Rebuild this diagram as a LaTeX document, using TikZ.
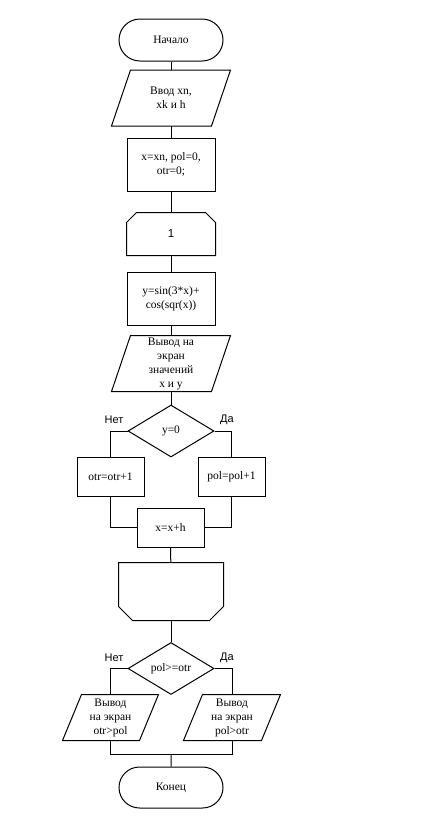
\documentclass[tikz,border=0pt]{standalone}
\usepackage{fontspec}
\setmainfont{Liberation Serif}
\setsansfont{Liberation Sans}
\usetikzlibrary{shapes.geometric,shapes.misc}

\tikzset{
  base/.style={draw,line width=1pt,align=center,inner sep=0pt,
    font=\fontsize{11.5}{14}\selectfont},
  term/.style={base,rounded rectangle,minimum width=104pt,minimum height=42pt},
  proc/.style={base,rectangle},
  cond/.style={base,diamond,minimum width=86pt,minimum height=52pt},
  % data blocks: plain box, outline drawn slanted by #1
  io/.style={base,draw=none,rectangle,
    append after command={\pgfextra{\draw
      ([xshift=#1]\tikzlastnode.north west) -- (\tikzlastnode.north east)
      -- ([xshift=-#1]\tikzlastnode.south east) -- (\tikzlastnode.south west) -- cycle;}}},
  % loop limits: plain box, outline drawn with cut corners
  cyclebeg/.style={base,draw=none,rectangle,minimum width=88pt,minimum height=42pt,
    append after command={\pgfextra{\draw
      ([yshift=-10pt]\tikzlastnode.north west) -- ([xshift=10pt]\tikzlastnode.north west)
      -- ([xshift=-10pt]\tikzlastnode.north east) -- ([yshift=-10pt]\tikzlastnode.north east)
      -- (\tikzlastnode.south east) -- (\tikzlastnode.south west) -- cycle;}}},
  cycleend/.style={base,draw=none,rectangle,minimum width=104pt,minimum height=57pt,
    append after command={\pgfextra{\draw
      (\tikzlastnode.north west) -- (\tikzlastnode.north east)
      -- ([yshift=14pt]\tikzlastnode.south east) -- ([xshift=-14pt]\tikzlastnode.south east)
      -- ([xshift=14pt]\tikzlastnode.south west) -- ([yshift=14pt]\tikzlastnode.south west)
      -- cycle;}}},
  answer/.style={font=\sffamily\fontsize{11}{13}\selectfont}
}

\begin{document}
\begin{tikzpicture}[x=1pt,y=-1pt,line width=1pt]
  \useasboundingbox (0,0) rectangle (440,831);
  % blocks
  \node[term] (start) at (171,40) {Начало};
  \node[io=19pt,minimum width=118pt,minimum height=55pt] (in) at (171,98) {Ввод xn,\\xk и h};
  \node[proc,minimum width=88pt,minimum height=53pt] (init) at (171,164.5) {x=xn, pol=0,\\otr=0;};
  \node[cyclebeg,font=\sffamily\fontsize{11.5}{14}\selectfont] (cb) at (171,234) {1};
  \node[proc,minimum width=88pt,minimum height=53pt] (calc) at (171,298.5) {y=sin(3*x)+\\cos(sqr(x))};
  \node[io=19pt,minimum width=118pt,minimum height=55pt] (out) at (171,363.5) {Вывод на\\экран\\значений\\x и y};
  \node[cond] (c1) at (171,431) {y=0};
  \node[proc,minimum width=67pt,minimum height=39pt] (otr) at (110.5,476.5) {otr=otr+1};
  \node[proc,minimum width=67pt,minimum height=39pt] (pol) at (231.5,476.5) {pol=pol+1};
  \node[proc,minimum width=67pt,minimum height=39pt] (step) at (170.5,527.5) {x=x+h};
  \node[cycleend] (ce) at (171,591.5) {};
  \node[cond] (c2) at (171,668.5) {pol>=otr};
  \node[io=19pt,minimum width=95pt,minimum height=45pt] (o1) at (110.5,717.5) {Вывод\\на экран\\otr>pol};
  \node[io=19pt,minimum width=96pt,minimum height=45pt] (o2) at (232,717.5) {Вывод\\на экран\\pol>otr};
  \node[term,minimum height=41pt] (fin) at (171,787.5) {Конец};
  \coordinate (join) at (171,754);
  % answers
  \node[answer] (no1) at (114,420) {Нет};
  \node[answer] (yes1) at (227,420) {Да};
  \node[answer] (no2) at (114,658) {Нет};
  \node[answer] (yes2) at (227,658) {Да};
  % lines
  \draw (start) -- (in);
  \draw (in) -- (init);
  \draw (init) -- (cb);
  \draw (cb) -- (calc);
  \draw (calc) -- (out);
  \draw (out) -- (c1);
  \draw (c1.west) -| (otr.north);
  \draw (c1.east) -| (pol.north);
  \draw (otr.south) |- (step.west);
  \draw (pol.south) |- (step.east);
  \draw (step) -- (ce);
  \draw (ce) -- (c2);
  \draw (c2.west) -| (o1.north);
  \draw (c2.east) -| (o2.north);
  \draw (o1.south) |- (join);
  \draw (o2.south) |- (join);
  \draw (join) -- (fin);
\end{tikzpicture}
\end{document}
